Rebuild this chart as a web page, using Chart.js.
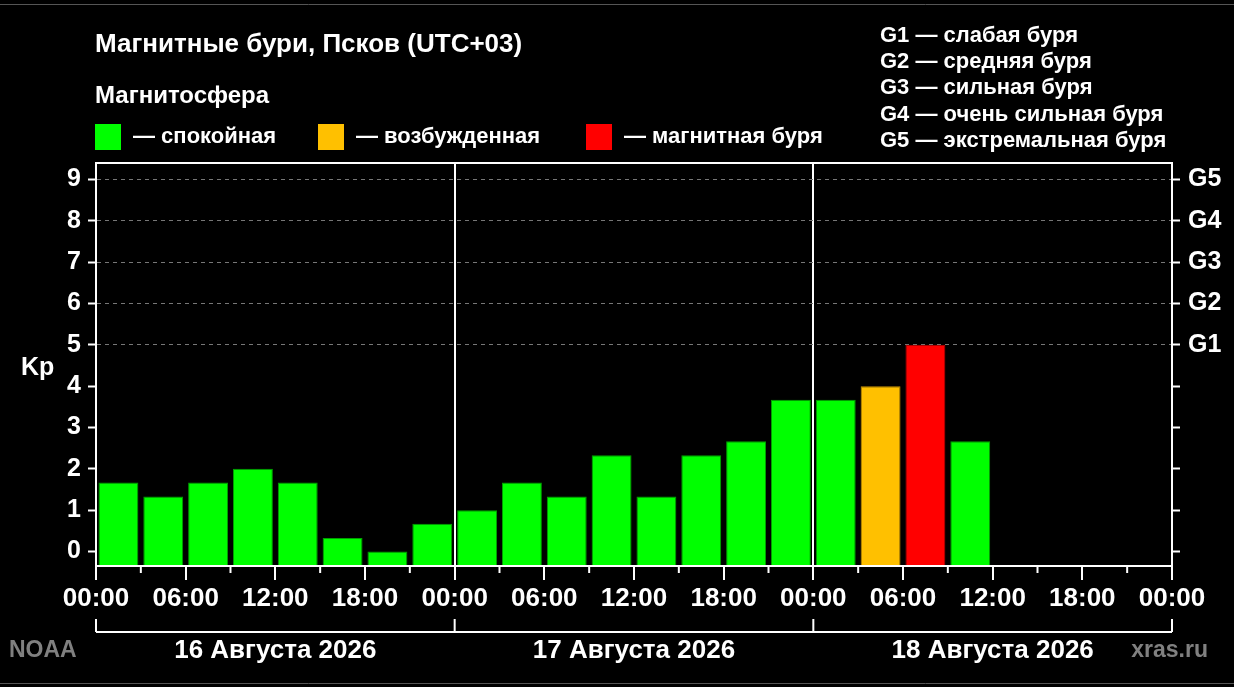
<!DOCTYPE html>
<html>
<head>
<meta charset="utf-8">
<script src="https://cdn.jsdelivr.net/npm/chart.js@4.4.1/dist/chart.umd.min.js"></script>
<style>
  html, body { margin: 0; padding: 0; background: #000; overflow: hidden; }
  canvas { display: block; }
</style>
</head>
<body>
<canvas id="kpChart" width="1234" height="687"></canvas>
<script>
// Данные: индекс Kp по трёхчасовым интервалам
const slots = [
  '00-03', '03-06', '06-09', '09-12', '12-15', '15-18', '18-21', '21-24',
  '00-03', '03-06', '06-09', '09-12', '12-15', '15-18', '18-21', '21-24',
  '00-03', '03-06', '06-09', '09-12', '12-15', '15-18', '18-21', '21-24'
];
const kpValues = [
  1.67, 1.33, 1.67, 2.0, 1.67, 0.33, 0, 0.67,
  1.0, 1.67, 1.33, 2.33, 1.33, 2.33, 2.67, 3.67,
  3.67, 4.0, 5.0, 2.67, null, null, null, null
];
const dayLabels = ['16 Августа 2026', '17 Августа 2026', '18 Августа 2026'];
const hourLabels = ['00:00', '06:00', '12:00', '18:00'];
const kpTicks = [0, 1, 2, 3, 4, 5, 6, 7, 8, 9];
const stormLabels = ['G1', 'G2', 'G3', 'G4', 'G5'];
const stormNames = ['слабая буря', 'средняя буря', 'сильная буря', 'очень сильная буря', 'экстремальная буря'];
const stateNames = ['спокойная', 'возбужденная', 'магнитная буря'];
const stateColors = ['#00ff00', '#ffc000', '#ff0000'];

const yMin = -0.35;
const yMax = 9.4;
const FONT = '"Liberation Sans", Arial, sans-serif';

function kpColor(v) {
  if (v >= 5) return stateColors[2];
  if (v >= 4) return stateColors[1];
  return stateColors[0];
}
function kpBorder(v) {
  if (v >= 5) return '#c00000';
  if (v >= 4) return '#c89000';
  return '#00a000';
}

// Подписи, рамка, скобки под днями и мелкие засечки
const decorPlugin = {
  id: 'decor',
  afterDraw(chart) {
    const c = chart.ctx;
    const a = chart.chartArea;
    const xt = chart.scales.xt;
    c.save();

    // серые линии сверху и снизу
    c.strokeStyle = '#555';
    c.lineWidth = 1;
    c.beginPath();
    c.moveTo(0, 4.5); c.lineTo(1234, 4.5);
    c.moveTo(0, 683.5); c.lineTo(1234, 683.5);
    c.stroke();

    // рамка графика
    c.strokeStyle = '#fff';
    c.lineWidth = 2;
    c.strokeRect(a.left, a.top, a.right - a.left, a.bottom - a.top);

    // мелкие засечки (03, 09, 15, 21 ч)
    c.beginPath();
    for (let h = 3; h < 72; h += 6) {
      const x = xt.getPixelForValue(h);
      c.moveTo(x, a.bottom); c.lineTo(x, a.bottom + 7);
    }
    c.stroke();

    // скобки под днями
    const y0 = 632;
    c.beginPath();
    c.moveTo(xt.getPixelForValue(0), y0);
    c.lineTo(xt.getPixelForValue(72), y0);
    for (let d = 0; d <= 3; d++) {
      const x = xt.getPixelForValue(d * 24);
      c.moveTo(x, y0); c.lineTo(x, y0 - 13);
    }
    c.stroke();

    c.fillStyle = '#fff';
    c.textBaseline = 'middle';
    c.font = 'bold 26px ' + FONT;
    c.textAlign = 'center';
    dayLabels.forEach((t, i) => {
      c.fillText(t, (xt.getPixelForValue(i * 24) + xt.getPixelForValue(i * 24 + 24)) / 2, 651);
    });

    // Kp
    c.textAlign = 'left';
    c.font = 'bold 25px ' + FONT;
    c.fillText('Kp', 21, 368);

    // заголовки
    c.font = 'bold 26px ' + FONT;
    c.fillText('Магнитные бури, Псков (UTC+03)', 95, 45);
    c.font = 'bold 24px ' + FONT;
    c.fillText('Магнитосфера', 95, 96);

    // легенда состояний
    c.font = 'bold 22px ' + FONT;
    const boxX = [95, 318, 586];
    stateNames.forEach((t, i) => {
      c.fillStyle = stateColors[i];
      c.fillRect(boxX[i], 124, 26, 26);
      c.fillStyle = '#fff';
      c.fillText('— ' + t, boxX[i] + 38, 137);
    });

    // список G1..G5
    c.font = 'bold 22px ' + FONT;
    stormLabels.forEach((g, i) => {
      c.fillText(g + ' — ' + stormNames[i], 880, 36 + i * 26.2);
    });

    // NOAA, xras.ru
    c.fillStyle = '#808080';
    c.font = 'bold 23px ' + FONT;
    c.fillText('NOAA', 9, 651);
    c.textAlign = 'right';
    c.fillText('xras.ru', 1208, 651);

    c.restore();
  }
};

const ctx = document.getElementById('kpChart').getContext('2d');

new Chart(ctx, {
  type: 'bar',
  data: {
    labels: slots,
    datasets: [{
      data: kpValues,
      base: yMin,
      backgroundColor: (c) => kpColor(c.raw),
      borderColor: (c) => kpBorder(c.raw),
      borderWidth: { top: 1, left: 1, right: 1, bottom: 0 },
      barPercentage: 0.89,
      categoryPercentage: 1.0
    }]
  },
  options: {
    responsive: false,
    animation: false,
    devicePixelRatio: 1,
    layout: { padding: { top: 163, left: 0, right: 0, bottom: 0 } },
    plugins: {
      legend: { display: false },
      title: { display: false },
      tooltip: { enabled: false }
    },
    scales: {
      x: { display: false },
      xt: {
        type: 'linear',
        position: 'bottom',
        offset: false,
        min: 0,
        max: 72,
        afterFit: (s) => { s.height = 121; },
        afterBuildTicks: (s) => {
          s.ticks = [];
          for (let h = 0; h <= 72; h += 6) s.ticks.push({ value: h });
        },
        ticks: {
          color: '#fff',
          font: { family: FONT, size: 26, weight: 'bold' },
          padding: 3,
          maxRotation: 0,
          autoSkip: false,
          callback: (v) => hourLabels[(v / 6) % 4]
        },
        grid: {
          offset: false,
          drawOnChartArea: true,
          color: (c) => (c.tick && c.tick.value % 24 === 0 && c.tick.value > 0 && c.tick.value < 72) ? '#fff' : 'rgba(0,0,0,0)',
          lineWidth: 2,
          tickColor: '#fff',
          tickWidth: 2,
          tickLength: 14
        },
        border: { display: true, color: '#fff', width: 2 }
      },
      y: {
        position: 'left',
        min: yMin,
        max: yMax,
        afterFit: (s) => { s.width = 96; },
        afterBuildTicks: (s) => { s.ticks = kpTicks.map(v => ({ value: v })); },
        ticks: {
          color: '#fff',
          font: { family: FONT, size: 25, weight: 'bold' },
          padding: 7
        },
        grid: {
          color: (c) => (c.tick && c.tick.value >= 5) ? '#777' : 'rgba(0,0,0,0)',
          lineWidth: 1,
          tickColor: '#fff',
          tickWidth: 2,
          tickLength: 8
        },
        border: { display: true, color: '#fff', width: 2, dash: [4, 4] }
      },
      y2: {
        position: 'right',
        min: yMin,
        max: yMax,
        afterFit: (s) => { s.width = 62; },
        afterBuildTicks: (s) => { s.ticks = kpTicks.map(v => ({ value: v })); },
        ticks: {
          color: '#fff',
          font: { family: FONT, size: 25, weight: 'bold' },
          padding: 8,
          callback: (v) => v >= 5 ? stormLabels[v - 5] : ''
        },
        grid: {
          drawOnChartArea: false,
          tickColor: '#fff',
          tickWidth: 2,
          tickLength: 8
        },
        border: { display: true, color: '#fff', width: 2 }
      }
    }
  },
  plugins: [decorPlugin]
});
</script>
</body>
</html>
